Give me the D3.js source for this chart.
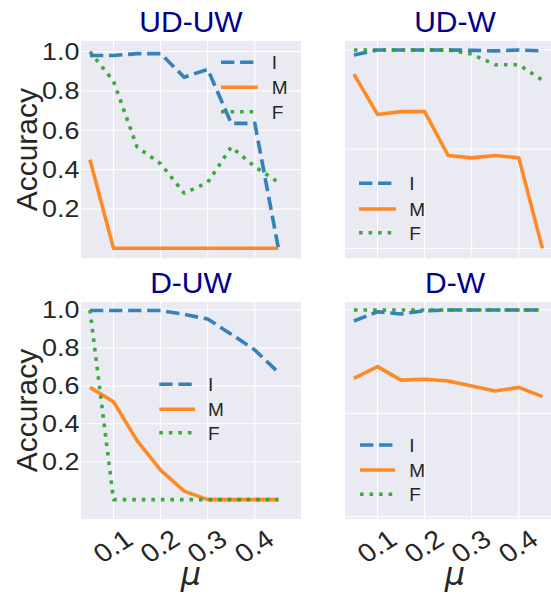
<!DOCTYPE html>
<html><head><meta charset="utf-8">
<script src="https://cdn.jsdelivr.net/npm/d3@7"></script>
<style>
html,body{margin:0;padding:0;background:#fff;}
svg{display:block;}
text{font-family:"Liberation Sans",Arial,sans-serif;fill:#262626;}
</style></head>
<body>
<svg id="chart" width="551" height="594"></svg>
<script>
// ---- data ----
const mu = [0.05, 0.1, 0.15, 0.2, 0.25, 0.3, 0.35, 0.4, 0.45];
const seriesNames = ["I", "M", "F"];
const panelTitles = ["UD-UW", "UD-W", "D-UW", "D-W"];
const xTicks = [0.1, 0.2, 0.3, 0.4];
const xTickLabels = ["0.1", "0.2", "0.3", "0.4"];
const yTicksLabeled = [0.2, 0.4, 0.6, 0.8, 1.0];
const yTickLabels = ["0.2", "0.4", "0.6", "0.8", "1.0"];
const yTicksUnlabeled = [0.0, 0.5, 1.0];

const udUW_I = [0.98, 0.98, 0.99, 0.99, 0.87, 0.91, 0.635, 0.635, 0.0];
const udUW_M = [0.45, 0, 0, 0, 0, 0, 0, 0, 0];
const udUW_F = [1.0, 0.85, 0.515, 0.43, 0.28, 0.335, 0.515, 0.415, 0.335];

const udW_I = [0.975, 1.0, 1.0, 1.0, 1.0, 0.998, 0.995, 1.0, 0.995];
const udW_M = [0.878, 0.675, 0.689, 0.689, 0.468, 0.456, 0.468, 0.456, 0.0];
const udW_F = [1.0, 1.0, 1.0, 1.0, 1.0, 0.979, 0.925, 0.925, 0.848];

const dUW_I = [0.997, 0.997, 0.997, 0.997, 0.977, 0.952, 0.872, 0.789, 0.671];
const dUW_M = [0.592, 0.516, 0.311, 0.156, 0.045, 0.0, 0.0, 0.0, 0.0];
const dUW_F = [1.0, 0.0, 0.0, 0.0, 0.0, 0.0, 0.0, 0.0, 0.0];

const dW_I = [0.947, 0.992, 0.981, 0.997, 1.0, 1.0, 1.0, 1.0, 1.0];
const dW_M = [0.669, 0.726, 0.661, 0.665, 0.657, 0.632, 0.608, 0.626, 0.581];
const dW_F = [1.0, 1.0, 1.0, 1.0, 1.0, 1.0, 1.0, 1.0, 1.0];

// ---- layout / style ----
const colors = {I: "#1f77b4", M: "#ff7f0e", F: "#2ca02c"};
const LW = 3.6;
const dashes = {I: `${3.7*LW},${1.6*LW}`, M: null, F: `${1*LW},${1.65*LW}`};
const xDomain = [0.031, 0.498];
const TICK_FS = 23, TICK_SX = 1.17;

const panels = [
  {title: panelTitles[0], data: {I: udUW_I, M: udUW_M, F: udUW_F}, x0: 81, x1: 301, y0: 41, y1: 258.3,
   yDomain: [-0.051, 1.054], labeled: true, bottom: false, leg: {hx0: 140, hx1: 176.7, tx: 190.7, rows: [21.3, 46.3, 70.7]}},
  {title: panelTitles[1], data: {I: udW_I, M: udW_M, F: udW_F}, x0: 345, x1: 565, y0: 41, y1: 258.3,
   yDomain: [-0.050, 1.045], labeled: false, bottom: false, leg: {hx0: 14, hx1: 51, tx: 64.3, rows: [142.3, 168, 191.7]}},
  {title: panelTitles[2], data: {I: dUW_I, M: dUW_M, F: dUW_F}, x0: 81, x1: 301, y0: 302, y1: 519,
   yDomain: [-0.102, 1.042], labeled: true, bottom: true, leg: {hx0: 78.3, hx1: 114, tx: 127, rows: [82.3, 107.3, 130.7]}},
  {title: panelTitles[3], data: {I: dW_I, M: dW_M, F: dW_F}, x0: 345, x1: 565, y0: 302, y1: 519,
   yDomain: [-0.011, 1.039], labeled: false, bottom: true, leg: {hx0: 15, hx1: 50, tx: 64.3, rows: [143, 168, 192.3]}}
];

const svg = d3.select("#chart");

panels.forEach(p => {
  const x = d3.scaleLinear().domain(xDomain).range([p.x0, p.x1]);
  const y = d3.scaleLinear().domain(p.yDomain).range([p.y1, p.y0]);
  const g = svg.append("g");

  g.append("rect").attr("x", p.x0).attr("y", p.y0)
    .attr("width", p.x1 - p.x0).attr("height", p.y1 - p.y0).attr("fill", "#eaeaf2");

  const yt = p.labeled ? yTicksLabeled : yTicksUnlabeled;
  // grid
  g.selectAll(".gx").data(xTicks).enter().append("line")
    .attr("x1", d => x(d)).attr("x2", d => x(d)).attr("y1", p.y0).attr("y2", p.y1)
    .attr("stroke", "#fff").attr("stroke-width", 1);
  g.selectAll(".gy").data(yt).enter().append("line")
    .attr("y1", d => y(d)).attr("y2", d => y(d)).attr("x1", p.x0).attr("x2", p.x1)
    .attr("stroke", "#fff").attr("stroke-width", 1);

  // y tick labels
  if (p.labeled) {
    g.selectAll(".yl").data(yTicksLabeled).enter().append("text")
      .attr("transform", d => `translate(${p.x0 - 1.5},${y(d)}) scale(${TICK_SX},1)`)
      .attr("dy", "0.36em")
      .attr("text-anchor", "end").attr("font-size", TICK_FS)
      .text((d, i) => yTickLabels[i]);
    g.append("text")
      .attr("transform", `translate(${p.x0 - 44.5},${(p.y0 + p.y1) / 2}) rotate(-90)`)
      .attr("text-anchor", "middle").attr("font-size", 30).text("Accuracy");
  }

  // x tick labels
  if (p.bottom) {
    g.selectAll(".xl").data(xTicks).enter().append("text")
      .attr("transform", d => `translate(${x(d) - 1},${p.y1 + 27}) scale(1.1,1) rotate(-35)`)
      .attr("text-anchor", "middle").attr("dy", "0.36em").attr("font-size", 26)
      .text((d, i) => xTickLabels[i]);
    g.append("text")
      .attr("x", (p.x0 + p.x1) / 2).attr("y", p.y1 + 66)
      .attr("text-anchor", "middle").attr("font-size", 32)
      .style("font-family", "'DejaVu Sans'").style("font-style", "italic")
      .text("μ");
  }

  // title
  g.append("text").attr("x", (p.x0 + p.x1) / 2).attr("y", p.y0 - 8.7)
    .attr("text-anchor", "middle").attr("font-size", 30).style("fill", "#00008b")
    .text(p.title);

  // lines
  const clipId = "clip" + p.title.replace(/-/g, "");
  svg.append("clipPath").attr("id", clipId).append("rect")
    .attr("x", p.x0).attr("y", p.y0).attr("width", p.x1 - p.x0).attr("height", p.y1 - p.y0);
  const line = d3.line().x((d, i) => x(mu[i])).y(d => y(d));
  seriesNames.forEach(s => {
    g.append("path").datum(p.data[s])
      .attr("d", line).attr("fill", "none")
      .attr("stroke", colors[s]).attr("stroke-width", LW).attr("stroke-opacity", 0.9)
      .attr("stroke-dasharray", dashes[s]).attr("stroke-linejoin", "round")
      .attr("clip-path", `url(#${clipId})`);
  });

  // legend
  seriesNames.forEach((s, i) => {
    const ly = p.y0 + p.leg.rows[i];
    g.append("line").attr("x1", p.x0 + p.leg.hx0).attr("x2", p.x0 + p.leg.hx1)
      .attr("y1", ly).attr("y2", ly)
      .attr("stroke", colors[s]).attr("stroke-width", LW).attr("stroke-opacity", 0.9)
      .attr("stroke-dasharray", dashes[s]);
    g.append("text").attr("x", p.x0 + p.leg.tx).attr("y", ly).attr("dy", "0.36em")
      .attr("font-size", 19).text(s);
  });
});
</script>
</body></html>
